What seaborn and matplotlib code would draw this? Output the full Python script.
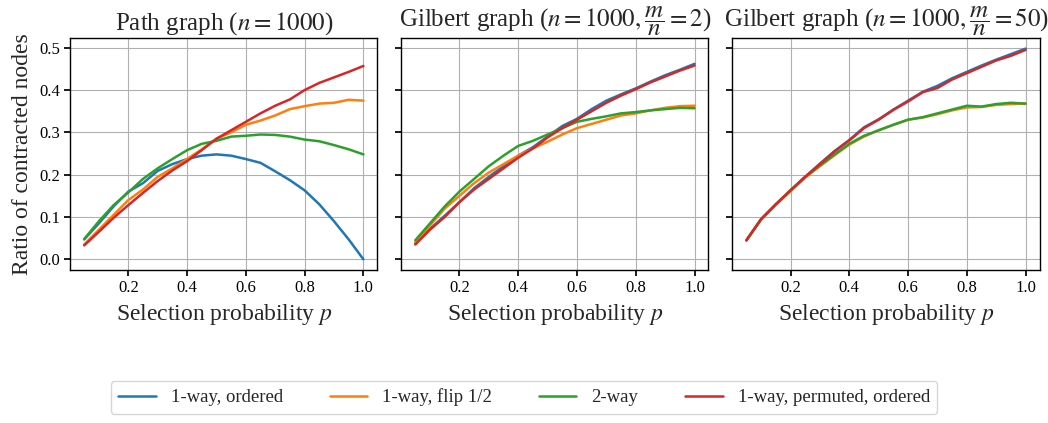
import numpy as np
import pandas as pd
import seaborn as sns
import matplotlib
matplotlib.use("Agg")
import matplotlib.pyplot as plt

p_values = [0.05, 0.10, 0.15, 0.20, 0.25, 0.30, 0.35, 0.40, 0.45, 0.50,
            0.55, 0.60, 0.65, 0.70, 0.75, 0.80, 0.85, 0.90, 0.95, 1.00]

methods = ["1-way, ordered", "1-way, flip 1/2", "2-way", "1-way, permuted, ordered"]

titles = [r"Path graph ($n=1000$)",
          r"Gilbert graph ($n=1000,\dfrac{m}{n}=2$)",
          r"Gilbert graph ($n=1000,\dfrac{m}{n}=50$)"]

# Path graph
path_ordered = [0.047, 0.085, 0.125, 0.160, 0.180, 0.209, 0.225, 0.237, 0.245, 0.248,
                0.245, 0.237, 0.228, 0.208, 0.187, 0.163, 0.130, 0.090, 0.047, 0.000]
path_flip = [0.035, 0.070, 0.105, 0.140, 0.165, 0.195, 0.215, 0.237, 0.260, 0.285,
             0.300, 0.318, 0.328, 0.340, 0.355, 0.362, 0.368, 0.370, 0.377, 0.375]
path_2way = [0.048, 0.090, 0.128, 0.158, 0.190, 0.215, 0.237, 0.258, 0.273, 0.280,
             0.290, 0.292, 0.295, 0.294, 0.290, 0.283, 0.279, 0.270, 0.260, 0.248]
path_perm = [0.033, 0.065, 0.098, 0.128, 0.157, 0.185, 0.210, 0.232, 0.258, 0.285,
             0.305, 0.325, 0.345, 0.363, 0.378, 0.400, 0.417, 0.430, 0.443, 0.457]

# Gilbert m/n = 2
g2_ordered = [0.037, 0.072, 0.103, 0.135, 0.168, 0.195, 0.220, 0.245, 0.265, 0.290,
              0.315, 0.332, 0.355, 0.375, 0.390, 0.404, 0.420, 0.435, 0.448, 0.462]
g2_flip = [0.040, 0.080, 0.120, 0.150, 0.180, 0.205, 0.225, 0.245, 0.262, 0.278,
           0.295, 0.310, 0.320, 0.330, 0.340, 0.345, 0.352, 0.358, 0.362, 0.363]
g2_2way = [0.045, 0.085, 0.125, 0.160, 0.190, 0.220, 0.245, 0.268, 0.280, 0.295,
           0.310, 0.325, 0.332, 0.338, 0.345, 0.348, 0.352, 0.355, 0.358, 0.357]
g2_perm = [0.035, 0.070, 0.100, 0.135, 0.165, 0.190, 0.215, 0.240, 0.262, 0.288,
           0.310, 0.330, 0.350, 0.370, 0.387, 0.402, 0.418, 0.432, 0.446, 0.458]

# Gilbert m/n = 50
g50_ordered = [0.045, 0.095, 0.130, 0.163, 0.195, 0.226, 0.256, 0.282, 0.312, 0.331,
               0.354, 0.375, 0.396, 0.410, 0.428, 0.443, 0.458, 0.472, 0.485, 0.498]
g50_flip = [0.045, 0.094, 0.129, 0.161, 0.193, 0.220, 0.246, 0.271, 0.290, 0.305,
            0.318, 0.330, 0.335, 0.343, 0.352, 0.359, 0.360, 0.365, 0.367, 0.368]
g50_2way = [0.045, 0.095, 0.130, 0.163, 0.195, 0.222, 0.248, 0.273, 0.292, 0.305,
            0.318, 0.330, 0.336, 0.345, 0.354, 0.363, 0.361, 0.367, 0.370, 0.368]
g50_perm = [0.045, 0.095, 0.130, 0.163, 0.195, 0.225, 0.255, 0.281, 0.310, 0.330,
            0.353, 0.373, 0.395, 0.405, 0.425, 0.440, 0.455, 0.470, 0.481, 0.495]

panels = [
    [path_ordered, path_flip, path_2way, path_perm],
    [g2_ordered, g2_flip, g2_2way, g2_perm],
    [g50_ordered, g50_flip, g50_2way, g50_perm],
]

sns.set_theme(style="ticks", rc={"axes.grid": True, "grid.color": "#b0b0b0",
                                 "grid.linewidth": 0.8, "axes.edgecolor": "black",
                                 "xtick.color": "black", "ytick.color": "black",
                                 "axes.linewidth": 1.0})
plt.rcParams['font.family'] = ['Liberation Serif', 'DejaVu Serif']
plt.rcParams['mathtext.fontset'] = 'stix'

palette = sns.color_palette("tab10", 4)

fig, axes = plt.subplots(1, 3, figsize=(10.48, 4.23), dpi=100, sharey=True)
fig.subplots_adjust(left=0.067, right=0.992, top=0.91, bottom=0.362, wspace=0.078)

for ax, series, title in zip(axes, panels, titles):
    rows = []
    for m, vals in zip(methods, series):
        for p, v in zip(p_values, vals):
            rows.append({"p": p, "ratio": v, "method": m})
    df = pd.DataFrame(rows)
    sns.lineplot(data=df, x="p", y="ratio", hue="method", hue_order=methods,
                 palette=palette, ax=ax, linewidth=1.8, legend=False)
    ax.set_title(title, fontsize=18, pad=6)
    ax.set_xlabel(r"Selection probability $p$", fontsize=17)
    ax.set_ylabel("")
    ax.set_xticks([0.2, 0.4, 0.6, 0.8, 1.0])
    ax.set_yticks([0.0, 0.1, 0.2, 0.3, 0.4, 0.5])
    ax.tick_params(labelsize=12, length=4)
    ax.margins(x=0.05, y=0.05)

axes[0].set_ylabel("Ratio of contracted nodes", fontsize=17)
axes[0].set_yticklabels([f"{v:.1f}" for v in [0.0, 0.1, 0.2, 0.3, 0.4, 0.5]])

handles = [plt.Line2D([], [], color=palette[i], linewidth=1.8) for i in range(4)]
fig.legend(handles, methods, loc="lower center", bbox_to_anchor=(0.5, 0.0),
           ncol=4, fontsize=13.5, frameon=True, fancybox=True,
           edgecolor="#cccccc", columnspacing=2.5)

fig.savefig("out.png", dpi=100)
